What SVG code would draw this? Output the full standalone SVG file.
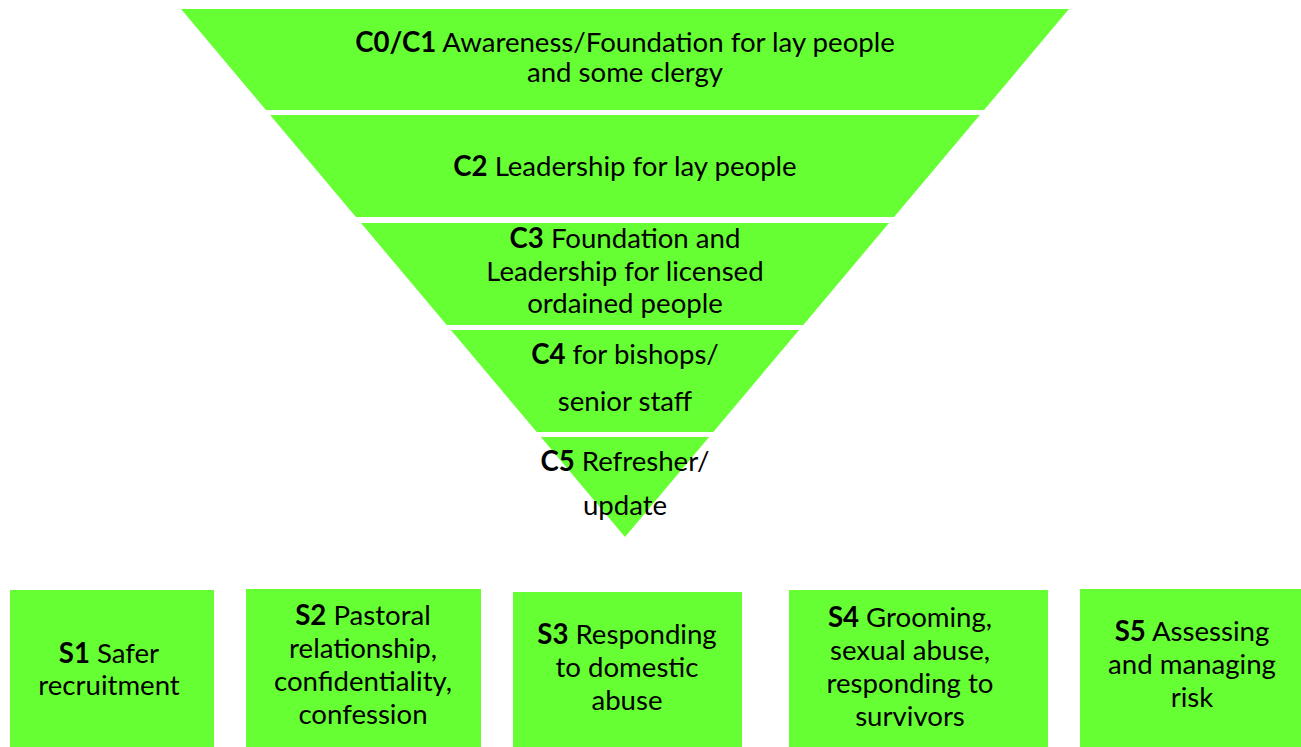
<svg xmlns="http://www.w3.org/2000/svg" width="1301" height="747" viewBox="0 0 1301 747">
<style>
.band{fill:#66FF33}
.box{fill:#66FF33}
text{font-family:Lato,"Open Sans","Liberation Sans",sans-serif;font-size:27.6px;fill:#000;text-anchor:middle}
.b{font-weight:bold}
</style>
<rect width="1301" height="747" fill="#fff"/>
<g id="band-c0c1">
<polygon class="band" points="181,9 1069,9 984.1,110 265.9,110"/>
<text x="625" y="52"><tspan class="b">C0/C1</tspan> Awareness/Foundation for lay people</text>
<text x="625" y="82">and some clergy</text>
</g>
<g id="band-c2">
<polygon class="band" points="270.1,115 979.9,115 894.1,217 355.9,217"/>
<text x="625" y="176"><tspan class="b">C2</tspan> Leadership for lay people</text>
</g>
<g id="band-c3">
<polygon class="band" points="361,223 889,223 803.3,325 446.7,325"/>
<text x="625" y="248"><tspan class="b">C3</tspan> Foundation and</text>
<text x="625" y="281">Leadership for licensed</text>
<text x="625" y="313">ordained people</text>
</g>
<g id="band-c4">
<polygon class="band" points="450.9,330 799.1,330 713.3,432 536.7,432"/>
<text x="625" y="364"><tspan class="b">C4</tspan> for bishops/</text>
<text x="625" y="411">senior staff</text>
</g>
<g id="band-c5">
<polygon class="band" points="540.9,437 709.1,437 625,537"/>
<text x="625" y="471"><tspan class="b">C5</tspan> Refresher/</text>
<text x="625" y="515">update</text>
</g>
<g id="box-s1">
<rect class="box" x="10" y="590" width="204" height="157"/>
<text x="109" y="663"><tspan class="b">S1</tspan> Safer</text>
<text x="109" y="695">recruitment</text>
</g>
<g id="box-s2">
<rect class="box" x="246" y="589" width="235" height="158"/>
<text x="363" y="625"><tspan class="b">S2</tspan> Pastoral</text>
<text x="363" y="658">relationship,</text>
<text x="363" y="691">confidentiality,</text>
<text x="363" y="724">confession</text>
</g>
<g id="box-s3">
<rect class="box" x="513" y="592" width="229" height="155"/>
<text x="627" y="644"><tspan class="b">S3</tspan> Responding</text>
<text x="627" y="677">to domestic</text>
<text x="627" y="710">abuse</text>
</g>
<g id="box-s4">
<rect class="box" x="789" y="590" width="259" height="157"/>
<text x="910" y="627"><tspan class="b">S4</tspan> Grooming,</text>
<text x="910" y="660">sexual abuse,</text>
<text x="910" y="693">responding to</text>
<text x="910" y="726">survivors</text>
</g>
<g id="box-s5">
<rect class="box" x="1080" y="589" width="221" height="158"/>
<text x="1192" y="641"><tspan class="b">S5</tspan> Assessing</text>
<text x="1192" y="674">and managing</text>
<text x="1192" y="707">risk</text>
</g>
<g id="connectors"/>
</svg>
